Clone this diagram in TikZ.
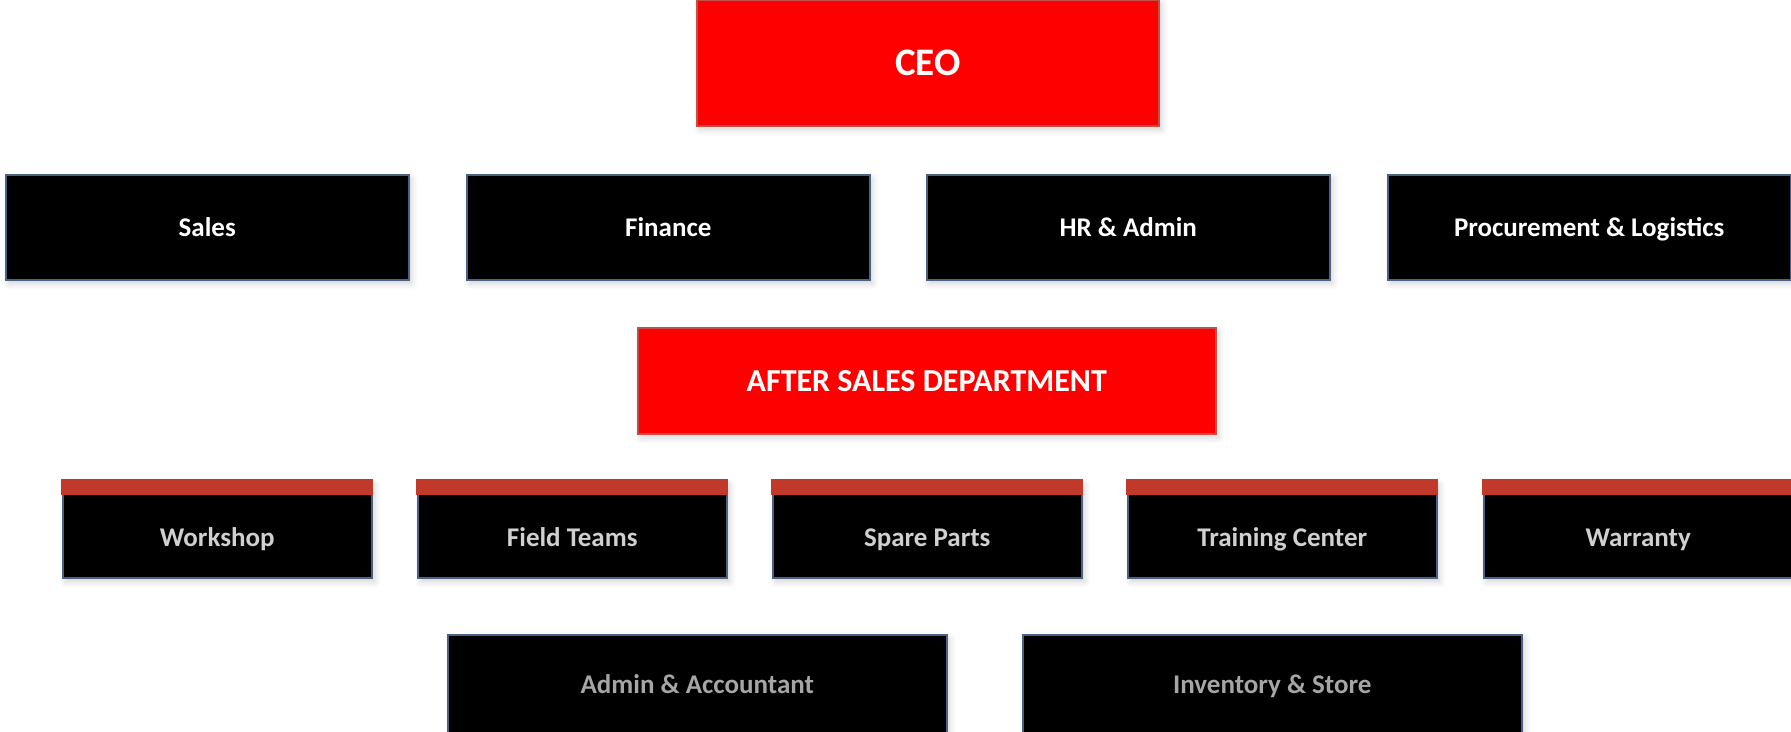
\documentclass[tikz,border=0pt]{standalone}
\usepackage{fontspec}
\setmainfont{Carlito}
\usetikzlibrary{shadows.blur}
\definecolor{boxred}{HTML}{FF0000}
\definecolor{redline}{HTML}{C0504D}
\definecolor{barred}{HTML}{C0392B}
\definecolor{slate}{HTML}{4A6283}
\definecolor{lightgray}{HTML}{D0D0D0}
\definecolor{midgray}{HTML}{A6A6A6}
\tikzset{
  softshadow/.style={blur shadow={shadow xshift=3pt, shadow yshift=-4pt, shadow blur steps=6, shadow blur radius=6pt, shadow opacity=18}},
  redbox/.style={softshadow, draw=redline, line width=1.5pt, fill=boxred, text=white, font=\bfseries\fontsize{32}{38}\selectfont, inner sep=0pt, anchor=north west, text height=27pt, text depth=6.5pt},
  blackbox/.style={softshadow, draw=slate, line width=1.5pt, fill=black, text=white, font=\bfseries\fontsize{27}{32}\selectfont, inner sep=0pt, anchor=north west, minimum width=403pt, minimum height=105pt, text height=23.5pt, text depth=6pt},
  unitbox/.style={softshadow, draw=slate, line width=1.5pt, fill=black, text=lightgray, font=\bfseries\fontsize{27}{32}\selectfont, inner sep=0pt, anchor=north west, minimum width=309pt, minimum height=97pt, text height=23.5pt, text depth=6pt},
  subbox/.style={softshadow, draw=slate, line width=1.5pt, fill=black, text=midgray, font=\bfseries\fontsize{27}{32}\selectfont, inner sep=0pt, anchor=north west, minimum width=499pt, minimum height=100pt, text height=23.5pt, text depth=6pt},
  topbar/.style={fill=barred}
}
\begin{document}
\begin{tikzpicture}[x=1pt,y=-1pt]
\useasboundingbox (0,0) rectangle (1791,731);
% CEO
\node[redbox, minimum width=462pt, minimum height=126pt, font=\bfseries\fontsize{39}{46}\selectfont, text height=32pt, text depth=7pt] (ceo) at (696,-1) {CEO};
% Row 2
\node[blackbox] (sales) at (5,174) {Sales};
\node[blackbox] (finance) at (466,174) {Finance};
\node[blackbox] (hr) at (926,174) {HR \& Admin};
\node[blackbox] (proc) at (1387,174) {Procurement \& Logistics};
% After sales
\node[redbox, minimum width=578pt, minimum height=106pt] (after) at (637,327) {AFTER SALES DEPARTMENT};
% Row 3
\node[unitbox] (workshop) at (62,480) {\raisebox{-8pt}{Workshop}};
\node[unitbox] (field) at (417,480) {\raisebox{-8pt}{Field Teams}};
\node[unitbox] (spare) at (772,480) {\raisebox{-8pt}{Spare Parts}};
\node[unitbox] (training) at (1127,480) {\raisebox{-8pt}{Training Center}};
\node[unitbox] (warranty) at (1483,480) {\raisebox{-8pt}{Warranty}};
\foreach \n in {workshop,field,spare,training,warranty}{
  \fill[topbar] ([xshift=-0.75pt,yshift=0.75pt]\n.north west) rectangle ([xshift=0.75pt,yshift=-15pt]\n.north east);
}
% Row 4
\node[subbox] (admin) at (447,634) {Admin \& Accountant};
\node[subbox] (inventory) at (1022,634) {Inventory \& Store};
\end{tikzpicture}
\end{document}
